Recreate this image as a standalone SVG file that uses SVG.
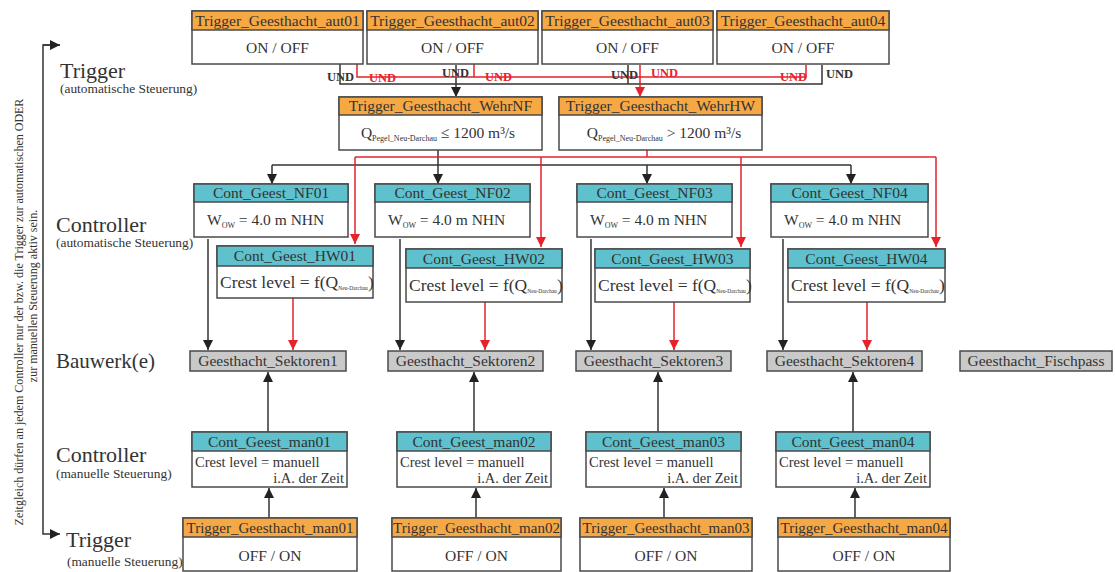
<svg xmlns="http://www.w3.org/2000/svg" width="1115" height="572" viewBox="0 0 1115 572">
<style>
text{font-family:"Liberation Serif","Times New Roman",serif;fill:#333}
.box{fill:#fff;stroke:#4a4a4a;stroke-width:1.5}
.ho{fill:#f6a845;stroke:#4a4a4a;stroke-width:1.5}
.ht{fill:#5ec1cd;stroke:#4a4a4a;stroke-width:1.5}
.sk{fill:#c9c9c9;stroke:#4a4a4a;stroke-width:1.5}
.h{font-size:15.5px;text-anchor:middle}
.b{font-size:15.5px;text-anchor:middle}
.k{fill:none;stroke:#333;stroke-width:1.5}
.r{fill:none;stroke:#e8222a;stroke-width:1.5}
.ka{fill:none;stroke:#333;stroke-width:1.5;marker-end:url(#ak)}
.ra{fill:none;stroke:#e8222a;stroke-width:1.5;marker-end:url(#ar)}
.und{font-size:12.5px;font-weight:bold}
.undr{font-size:12.5px;font-weight:bold;fill:#e8222a}
.lab{font-size:22px}
.sub{font-size:13.4px}
.rot{font-size:12px;text-anchor:middle}
</style>
<defs>
<marker id="ak" markerWidth="10" markerHeight="10" refX="10" refY="5" orient="auto" markerUnits="userSpaceOnUse"><path d="M0,0 L10,5 L0,10 z" fill="#222"/></marker>
<marker id="ar" markerWidth="10" markerHeight="10" refX="10" refY="5" orient="auto" markerUnits="userSpaceOnUse"><path d="M0,0 L10,5 L0,10 z" fill="#e8222a"/></marker>
</defs>

<!-- side labels -->
<g id="side">
<text class="lab" x="60" y="78">Trigger</text>
<text class="sub" x="60" y="93">(automatische Steuerung)</text>
<text class="lab" x="56" y="232">Controller</text>
<text class="sub" x="56" y="247">(automatische Steuerung)</text>
<text class="lab" x="56" y="368" style="font-size:21px">Bauwerk(e)</text>
<text class="lab" x="56" y="462">Controller</text>
<text class="sub" x="56" y="478">(manuelle Steuerung)</text>
<text class="lab" x="66" y="547">Trigger</text>
<text class="sub" x="67" y="566">(manuelle Steuerung)</text>
<text class="rot" transform="translate(23,312) rotate(-90)">Zeitgleich dürfen an jedem Controller nur der bzw. die Trigger zur automatischen ODER</text>
<text class="rot" transform="translate(37,296) rotate(-90)">zur manuellen Steuerung aktiv sein.</text>
<path class="ka" d="M60,45 H43 V534 H60"/>
<path class="ka" d="M43,45 H60"/>
</g>

<!-- connectors -->
<g id="connectors">
<path class="k" d="M340,64 V84 H822 V65"/>
<path class="k" d="M628,65 V84"/>
<path class="ka" d="M456,65 V97"/>
<path class="r" d="M357,64 V77 H806 V65"/>
<path class="r" d="M474,64 V77"/>
<path class="ra" d="M640,65 V97"/>
<path class="k" d="M272,165 H851"/>
<path class="ka" d="M438,150 V184"/>
<path class="ka" d="M272,165 V184"/>
<path class="ka" d="M647,165 V184"/>
<path class="ka" d="M851,165 V184"/>
<path class="r" d="M355,157 H936"/>
<path class="r" d="M647,150 V157"/>
<path class="ra" d="M355,157 V244"/>
<path class="ra" d="M541,157 V247"/>
<path class="ra" d="M741,157 V247"/>
<path class="ra" d="M936,157 V247"/>
<path class="ka" d="M208,239 V350"/>
<path class="ka" d="M400,239 V350"/>
<path class="ka" d="M591,239 V350"/>
<path class="ka" d="M783,239 V350"/>
<path class="ra" d="M293,298 V350"/>
<path class="ra" d="M485,302 V350"/>
<path class="ra" d="M674,302 V350"/>
<path class="ra" d="M867,302 V350"/>
<path class="ka" d="M268,432 V372"/>
<path class="ka" d="M474,432 V372"/>
<path class="ka" d="M658,432 V372"/>
<path class="ka" d="M853,432 V372"/>
<path class="ka" d="M269,518 V488"/>
<path class="ka" d="M476,518 V488"/>
<path class="ka" d="M664,518 V488"/>
<path class="ka" d="M855,518 V488"/>
<text class="und" x="327" y="81">UND</text>
<text class="undr" x="369" y="82">UND</text>
<text class="und" x="442" y="77">UND</text>
<text class="undr" x="485" y="81">UND</text>
<text class="und" x="611" y="79">UND</text>
<text class="undr" x="651" y="77">UND</text>
<text class="undr" x="780" y="81">UND</text>
<text class="und" x="826" y="78">UND</text>
</g>

<!-- automatic triggers -->
<g id="aut01"><rect class="box" x="192" y="11" width="171" height="53"/><rect class="ho" x="192" y="11" width="171" height="19"/><text class="h" x="277.5" y="26">Trigger_Geesthacht_aut01</text><text class="b" x="277.5" y="53">ON / OFF</text></g>
<g id="aut02"><rect class="box" x="367" y="11" width="171" height="53"/><rect class="ho" x="367" y="11" width="171" height="19"/><text class="h" x="452.5" y="26">Trigger_Geesthacht_aut02</text><text class="b" x="452.5" y="53">ON / OFF</text></g>
<g id="aut03"><rect class="box" x="542" y="11" width="171" height="53"/><rect class="ho" x="542" y="11" width="171" height="19"/><text class="h" x="627.5" y="26">Trigger_Geesthacht_aut03</text><text class="b" x="627.5" y="53">ON / OFF</text></g>
<g id="aut04"><rect class="box" x="717" y="11" width="172" height="53"/><rect class="ho" x="717" y="11" width="172" height="19"/><text class="h" x="803" y="26">Trigger_Geesthacht_aut04</text><text class="b" x="803" y="53">ON / OFF</text></g>

<!-- Wehr triggers -->
<g id="wehrNF"><rect class="box" x="339" y="97" width="203" height="53"/><rect class="ho" x="339" y="97" width="203" height="18"/><text class="h" x="440.5" y="111">Trigger_Geesthacht_WehrNF</text><text class="b" x="438" y="138">Q<tspan style="font-size:8px" dy="3">Pegel_Neu-Darchau</tspan><tspan dy="-3"> ≤ 1200 m³/s</tspan></text></g>
<g id="wehrHW"><rect class="box" x="559" y="97" width="203" height="53"/><rect class="ho" x="559" y="97" width="203" height="18"/><text class="h" x="660.5" y="111">Trigger_Geesthacht_WehrHW</text><text class="b" x="664" y="138">Q<tspan style="font-size:8px" dy="3">Pegel_Neu-Darchau</tspan><tspan dy="-3"> &gt; 1200 m³/s</tspan></text></g>

<!-- NF controllers -->
<g id="nf01"><rect class="box" x="194" y="184" width="154" height="53"/><rect class="ht" x="194" y="184" width="154" height="18"/><text class="h" x="271" y="198">Cont_Geest_NF01</text><text style="font-size:15.5px" x="207" y="225">W<tspan style="font-size:8px" dy="3">OW</tspan><tspan dy="-3"> = 4.0 m NHN</tspan></text></g>
<g id="nf02"><rect class="box" x="375" y="184" width="155" height="53"/><rect class="ht" x="375" y="184" width="155" height="18"/><text class="h" x="452.5" y="198">Cont_Geest_NF02</text><text style="font-size:15.5px" x="388" y="225">W<tspan style="font-size:8px" dy="3">OW</tspan><tspan dy="-3"> = 4.0 m NHN</tspan></text></g>
<g id="nf03"><rect class="box" x="577" y="184" width="155" height="53"/><rect class="ht" x="577" y="184" width="155" height="18"/><text class="h" x="654.5" y="198">Cont_Geest_NF03</text><text style="font-size:15.5px" x="590" y="225">W<tspan style="font-size:8px" dy="3">OW</tspan><tspan dy="-3"> = 4.0 m NHN</tspan></text></g>
<g id="nf04"><rect class="box" x="771" y="184" width="157" height="53"/><rect class="ht" x="771" y="184" width="157" height="18"/><text class="h" x="849.5" y="198">Cont_Geest_NF04</text><text style="font-size:15.5px" x="784" y="225">W<tspan style="font-size:8px" dy="3">OW</tspan><tspan dy="-3"> = 4.0 m NHN</tspan></text></g>

<!-- HW controllers -->
<g id="hw01"><rect class="box" x="217" y="246" width="156" height="52"/><rect class="ht" x="217" y="246" width="156" height="20"/><text class="h" x="295" y="261">Cont_Geest_HW01</text><text style="font-size:17.5px" x="220" y="288">Crest level = f(Q<tspan style="font-size:5.5px" dy="2">Neu-Darchau</tspan><tspan dy="-2">)</tspan></text></g>
<g id="hw02"><rect class="box" x="406" y="249" width="156" height="53"/><rect class="ht" x="406" y="249" width="156" height="19"/><text class="h" x="484" y="264">Cont_Geest_HW02</text><text style="font-size:17.5px" x="409" y="291">Crest level = f(Q<tspan style="font-size:5.5px" dy="2">Neu-Darchau</tspan><tspan dy="-2">)</tspan></text></g>
<g id="hw03"><rect class="box" x="595" y="249" width="155" height="53"/><rect class="ht" x="595" y="249" width="155" height="19"/><text class="h" x="672.5" y="264">Cont_Geest_HW03</text><text style="font-size:17.5px" x="598" y="291">Crest level = f(Q<tspan style="font-size:5.5px" dy="2">Neu-Darchau</tspan><tspan dy="-2">)</tspan></text></g>
<g id="hw04"><rect class="box" x="788" y="249" width="157" height="53"/><rect class="ht" x="788" y="249" width="157" height="19"/><text class="h" x="866.5" y="264">Cont_Geest_HW04</text><text style="font-size:17.5px" x="791" y="291">Crest level = f(Q<tspan style="font-size:5.5px" dy="2">Neu-Darchau</tspan><tspan dy="-2">)</tspan></text></g>

<!-- structures -->
<g id="sek1"><rect class="sk" x="190" y="351" width="156" height="20"/><text class="h" x="268" y="366">Geesthacht_Sektoren1</text></g>
<g id="sek2"><rect class="sk" x="388" y="351" width="155" height="20"/><text class="h" x="465.5" y="366">Geesthacht_Sektoren2</text></g>
<g id="sek3"><rect class="sk" x="576" y="351" width="155" height="20"/><text class="h" x="653.5" y="366">Geesthacht_Sektoren3</text></g>
<g id="sek4"><rect class="sk" x="767" y="351" width="155" height="20"/><text class="h" x="844.5" y="366">Geesthacht_Sektoren4</text></g>
<g id="fisch"><rect class="sk" x="960" y="351" width="152" height="20"/><text class="h" x="1036" y="366">Geesthacht_Fischpass</text></g>

<!-- manual controllers -->
<g id="man01"><rect class="box" x="192" y="432" width="155" height="55"/><rect class="ht" x="192" y="432" width="155" height="19"/><text class="h" x="269.5" y="447">Cont_Geest_man01</text><text style="font-size:14.5px" x="195" y="467">Crest level = manuell</text><text style="font-size:14.5px;text-anchor:end" x="344" y="483">i.A. der Zeit</text></g>
<g id="man02"><rect class="box" x="397" y="432" width="154" height="55"/><rect class="ht" x="397" y="432" width="154" height="19"/><text class="h" x="474" y="447">Cont_Geest_man02</text><text style="font-size:14.5px" x="400" y="467">Crest level = manuell</text><text style="font-size:14.5px;text-anchor:end" x="548" y="483">i.A. der Zeit</text></g>
<g id="man03"><rect class="box" x="586" y="432" width="155" height="55"/><rect class="ht" x="586" y="432" width="155" height="19"/><text class="h" x="663.5" y="447">Cont_Geest_man03</text><text style="font-size:14.5px" x="589" y="467">Crest level = manuell</text><text style="font-size:14.5px;text-anchor:end" x="738" y="483">i.A. der Zeit</text></g>
<g id="man04"><rect class="box" x="776" y="432" width="154" height="55"/><rect class="ht" x="776" y="432" width="154" height="19"/><text class="h" x="853" y="447">Cont_Geest_man04</text><text style="font-size:14.5px" x="779" y="467">Crest level = manuell</text><text style="font-size:14.5px;text-anchor:end" x="927" y="483">i.A. der Zeit</text></g>

<!-- manual triggers -->
<g id="tman01"><rect class="box" x="183" y="518" width="174" height="53"/><rect class="ho" x="183" y="518" width="174" height="19"/><text class="h" x="270" y="533" style="font-size:15px">Trigger_Geesthacht_man01</text><text class="b" x="270" y="561">OFF / ON</text></g>
<g id="tman02"><rect class="box" x="392" y="518" width="169" height="53"/><rect class="ho" x="392" y="518" width="169" height="19"/><text class="h" x="476.5" y="533" style="font-size:15px">Trigger_Geesthacht_man02</text><text class="b" x="476.5" y="561">OFF / ON</text></g>
<g id="tman03"><rect class="box" x="580" y="518" width="172" height="53"/><rect class="ho" x="580" y="518" width="172" height="19"/><text class="h" x="666" y="533" style="font-size:15px">Trigger_Geesthacht_man03</text><text class="b" x="666" y="561">OFF / ON</text></g>
<g id="tman04"><rect class="box" x="778" y="518" width="172" height="53"/><rect class="ho" x="778" y="518" width="172" height="19"/><text class="h" x="864" y="533" style="font-size:15px">Trigger_Geesthacht_man04</text><text class="b" x="864" y="561">OFF / ON</text></g>
</svg>
